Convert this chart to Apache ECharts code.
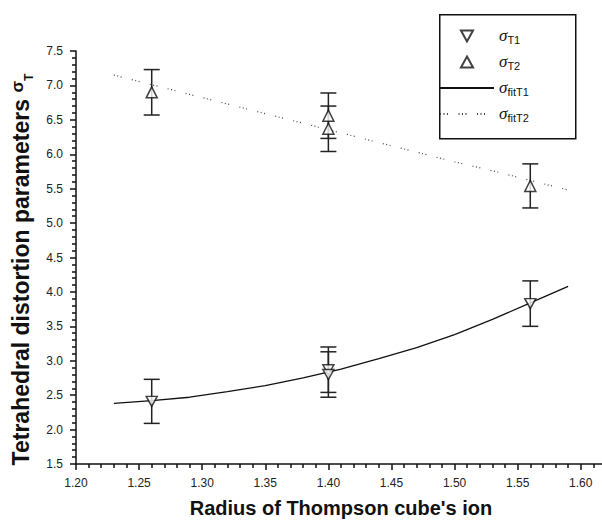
<!DOCTYPE html>
<html>
<head>
<meta charset="utf-8">
<script src="https://cdn.jsdelivr.net/npm/echarts@6/dist/echarts.min.js"></script>
<style>html,body{margin:0;padding:0;background:#fff;}#c{width:602px;height:522px;}</style>
</head>
<body>
<div id="c"></div>
<script>
// Measured points
const xT1 = [1.26, 1.40, 1.40, 1.56];
const yT1 = [2.41, 2.87, 2.80, 3.83];
const errT1 = [0.32, 0.33, 0.33, 0.33];
const xT2 = [1.26, 1.40, 1.40, 1.56];
const yT2 = [6.90, 6.56, 6.37, 5.54];
const errT2 = [0.33, 0.33, 0.33, 0.32];
// Fit curves
const fitX = [1.23, 1.26, 1.29, 1.32, 1.35, 1.38, 1.41, 1.44, 1.47, 1.50, 1.53, 1.56, 1.59];
const fitT1 = [2.38, 2.42, 2.47, 2.55, 2.64, 2.75, 2.88, 3.03, 3.19, 3.38, 3.60, 3.84, 4.08];
const fitT2 = [7.15, 7.01, 6.87, 6.73, 6.59, 6.45, 6.31, 6.17, 6.03, 5.89, 5.76, 5.62, 5.48];
// Legend labels (subscripts)
const legendNames = ['T1', 'T2', 'fitT1', 'fitT2'];

const FONT = 'Liberation Sans, Arial, sans-serif';

function errData(xs, ys, es) {
  return xs.map((x, i) => [x, ys[i] - es[i], ys[i] + es[i]]);
}
function errRender(params, api) {
  const x = api.value(0);
  const lo = api.coord([x, api.value(1)]);
  const hi = api.coord([x, api.value(2)]);
  const hw = 8;
  const st = { stroke: '#222', lineWidth: 1.5 };
  return {
    type: 'group',
    children: [
      { type: 'line', shape: { x1: lo[0], y1: lo[1], x2: hi[0], y2: hi[1] }, style: st },
      { type: 'line', shape: { x1: lo[0] - hw, y1: lo[1], x2: lo[0] + hw, y2: lo[1] }, style: st },
      { type: 'line', shape: { x1: hi[0] - hw, y1: hi[1], x2: hi[0] + hw, y2: hi[1] }, style: st }
    ]
  };
}

const chart = echarts.init(document.getElementById('c'), null, { renderer: 'svg' });
const isMajor = (v, base, step) => Math.abs((v - base) / step - Math.round((v - base) / step)) < 1e-6;
const hideIcon = { color: 'transparent', borderColor: 'transparent', borderWidth: 0, opacity: 0 };

chart.setOption({
  animation: false,
  backgroundColor: '#fff',
  grid: { left: 76, top: 51, width: 530, height: 413, containLabel: false, outerBoundsMode: 'none' },
  xAxis: {
    type: 'value', min: 1.2, max: 1.62, interval: 0.05,
    name: "Radius of Thompson cube's ion",
    nameLocation: 'middle', nameGap: 34,
    nameTextStyle: { fontFamily: FONT, fontSize: 20, fontWeight: 'bold', color: '#111' },
    axisLine: { lineStyle: { color: '#111', width: 1.5 } },
    axisTick: { inside: false, length: 6, lineStyle: { color: '#111', width: 1.5 } },
    minorTick: { show: true, splitNumber: 5, length: 4, lineStyle: { color: '#111', width: 1.5 } },
    splitLine: { show: false },
    axisLabel: {
      margin: 13, fontFamily: FONT, fontSize: 12, color: '#222',
      formatter: v => isMajor(v, 1.2, 0.05) ? v.toFixed(2) : ''
    }
  },
  yAxis: {
    type: 'value', min: 1.5, max: 7.5, interval: 0.5,
    name: '{m|Tetrahedral distortion parameters }{s|σ}{sub|T}',
    nameLocation: 'middle', nameGap: 38, nameRotate: 90,
    nameTextStyle: {
      fontFamily: FONT, fontSize: 23, fontWeight: 'bold', color: '#111',
      padding: [0, 24, 0, 0],
      rich: {
        m: { fontFamily: FONT, fontSize: 23, fontWeight: 'bold', color: '#111', verticalAlign: 'top', lineHeight: 25 },
        s: { fontFamily: FONT, fontSize: 17, color: '#111', verticalAlign: 'top', lineHeight: 26 },
        sub: { fontFamily: FONT, fontSize: 12, color: '#111', verticalAlign: 'bottom', lineHeight: 12 }
      }
    },
    axisLine: { lineStyle: { color: '#111', width: 1.5 } },
    axisTick: { inside: false, length: 6, lineStyle: { color: '#111', width: 1.5 } },
    minorTick: { show: true, splitNumber: 5, length: 4, lineStyle: { color: '#111', width: 1.5 } },
    splitLine: { show: false },
    axisLabel: { margin: 13, fontFamily: FONT, fontSize: 12, color: '#222', formatter: v => v.toFixed(1) }
  },
  graphic: [{
    type: 'rect', left: 439, top: 14, z: 1,
    shape: { width: 136, height: 124 },
    style: { fill: '#fff', stroke: '#111', lineWidth: 1.5 }
  }],
  legend: {
    orient: 'vertical', left: 439, top: 27, padding: 0, itemGap: 8,
    itemWidth: 54, itemHeight: 11, z: 5, symbolKeepAspect: true,
    data: [
      { name: legendNames[0], icon: 'path://M0,0L11,0L5.5,10Z' },
      { name: legendNames[1], icon: 'path://M5.5,0L11,10L0,10Z' },
      { name: legendNames[2], itemStyle: hideIcon },
      { name: legendNames[3], itemStyle: hideIcon }
    ],
    formatter: n => '{s|σ}{sub|' + n + '}',
    textStyle: {
      color: '#111',
      rich: {
        s: { fontFamily: 'Liberation Serif, serif', fontStyle: 'italic', fontSize: 17, color: '#111', verticalAlign: 'top', lineHeight: 18 },
        sub: { fontFamily: FONT, fontSize: 11, color: '#111', verticalAlign: 'bottom', lineHeight: 11 }
      }
    }
  },
  series: [
    { name: 'errT1', type: 'custom', renderItem: errRender, data: errData(xT1, yT1, errT1), encode: { x: 0, y: [1, 2] }, z: 2, silent: true },
    { name: 'errT2', type: 'custom', renderItem: errRender, data: errData(xT2, yT2, errT2), encode: { x: 0, y: [1, 2] }, z: 2, silent: true },
    { name: 'fitT1', type: 'line', data: fitX.map((x, i) => [x, fitT1[i]]), showSymbol: false, symbol: 'none',
      lineStyle: { color: '#111', width: 1.3, type: 'solid' }, itemStyle: { color: '#111' }, z: 1 },
    { name: 'fitT2', type: 'line', data: fitX.map((x, i) => [x, fitT2[i]]), showSymbol: false, symbol: 'none',
      lineStyle: { color: '#444', width: 1.2, type: [1, 2.5, 1, 2.5, 1, 10.5] }, itemStyle: { color: '#444' }, z: 1 },
    { name: 'T1', type: 'scatter', data: xT1.map((x, i) => [x, yT1[i]]), symbol: 'triangle', symbolRotate: 180, symbolSize: [11, 10],
      itemStyle: { color: '#fff', borderColor: '#111', borderWidth: 1.5 }, z: 3 },
    { name: 'T2', type: 'scatter', data: xT2.map((x, i) => [x, yT2[i]]), symbol: 'triangle', symbolSize: [11, 11],
      itemStyle: { color: '#fff', borderColor: '#111', borderWidth: 1.5 }, z: 3 }
  ]
});
</script>
</body>
</html>
